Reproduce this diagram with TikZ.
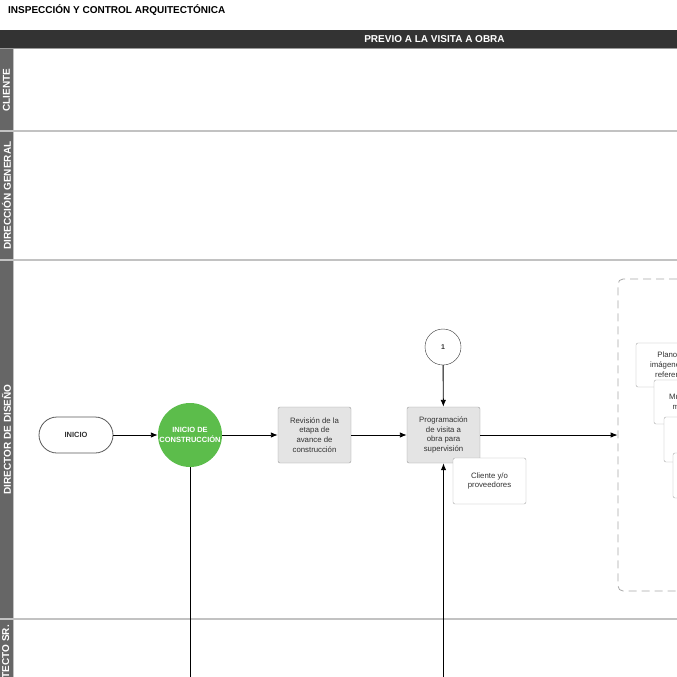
\documentclass[tikz,border=0pt]{standalone}
\usepackage{fontspec}
\setmainfont{Liberation Sans}
\usetikzlibrary{arrows.meta}
\definecolor{barfill}{HTML}{333333}
\definecolor{lanefill}{HTML}{666666}
\definecolor{laneline}{HTML}{C2C2C2}
\definecolor{procfill}{HTML}{E4E4E4}
\definecolor{procline}{HTML}{9A9A9A}
\definecolor{docline}{HTML}{A8A8A8}
\definecolor{txtgray}{HTML}{333333}
\definecolor{startgreen}{HTML}{5CBD4B}

\begin{document}
\begin{tikzpicture}[x=1pt, y=-1pt,
	every node/.style={font=\fontsize{7.8}{9.8}\selectfont, text=txtgray},
	proc/.style={rectangle, rounded corners=2pt, draw=procline, fill=procfill, minimum width=73pt, minimum height=56pt, align=center, inner sep=0pt},
	docbox/.style={rectangle, rounded corners=2pt, draw=docline, fill=white, minimum width=73pt, minimum height=45pt, align=center, inner sep=0pt},
	lanelabel/.style={rotate=90, text=white, font=\fontsize{10}{12}\selectfont\bfseries, inner sep=0pt}]

	\useasboundingbox (0, 0) rectangle (677, 677);
	\clip (0, 0) rectangle (677, 677);

	% title and phase bar
	\node (title) [anchor=west, font=\fontsize{10}{12}\selectfont\bfseries, text=black, inner sep=0pt] at (8, 10) {INSPECCIÓN Y CONTROL ARQUITECTÓNICA};
	\fill[barfill] (0, 30) rectangle (677, 48);
	\draw[procline, line width=1.5pt] (0, 48.5) -- (677, 48.5);
	\node (phase) [text=white, font=\fontsize{10}{12}\selectfont\bfseries, inner sep=0pt] at (434.5, 39) {PREVIO A LA VISITA A OBRA};

	% lanes
	\fill[lanefill] (0, 49) rectangle (12.5, 677);
	\draw[laneline, line width=0.6pt] (13, 49) -- (13, 677);
	\foreach \y in {131, 260, 619}
		\draw[laneline, line width=1.3pt] (0, \y) -- (677, \y);
	\node (l1) [lanelabel] at (6.5, 90) {CLIENTE};
	\node (l2) [lanelabel] at (6.5, 195.5) {DIRECCIÓN GENERAL};
	\node (l3) [lanelabel] at (6.5, 439.5) {DIRECTOR DE DISEÑO};
	\node (l4) [lanelabel, anchor=east] at (6.5, 625) {ARQUITECTO SR.};

	% flow
	\node (inicio) [rectangle, rounded corners=18pt, draw=black!65, line width=0.8pt, fill=white, minimum width=74pt, minimum height=36pt, font=\fontsize{7.5}{9}\selectfont\bfseries] at (76, 435) {INICIO};
	\node (obra) [circle, fill=startgreen, minimum size=64pt, inner sep=0pt, align=center, text=white, font=\fontsize{7.5}{9.5}\selectfont\bfseries] at (190, 435) {INICIO DE\\CONSTRUCCIÓN};
	\node (rev) [proc] at (314.5, 435) {Revisión de la\\etapa de\\avance de\\construcción};
	\node (prog) [proc] at (443.5, 435) {Programación\\de visita a\\obra para\\supervisión};
	\node (c1) [circle, draw=black!80, fill=white, minimum size=36pt, inner sep=0pt, font=\fontsize{7}{8}\selectfont\bfseries] at (443, 347) {1};
	\node (cli) [docbox, minimum height=46pt] at (489.5, 481) {Cliente y/o\\proveedores};

	% documents for the visit
	\node (grp) [rectangle, rounded corners=5pt, draw=docline, dashed, dash pattern=on 8pt off 5pt, line width=0.8pt, minimum width=142pt, minimum height=312pt] at (689, 435) {};
	\node (d1) [docbox, minimum height=44pt] at (672.5, 365) {Planos e\\imágenes de\\referencia};
	\node (d2) [docbox, minimum height=44pt] at (690.5, 402) {Muestras de\\materiales};
	\node (d3) [docbox] at (700.5, 439.5) {};
	\node (d4) [docbox] at (709.5, 475.5) {};

	\coordinate (obraout) at (190, 690);
	\coordinate (progin) at (443.5, 690);

	\path[line width=0.9pt, -{Latex[length=7pt, width=5.5pt]}]
	(inicio) edge (obra)
	(obra) edge (rev)
	(rev) edge (prog)
	(c1) edge (prog)
	(progin) edge (prog)
	(prog) edge (grp.west);
	\draw[line width=0.9pt] (obra) -- (obraout);

\end{tikzpicture}
\end{document}
